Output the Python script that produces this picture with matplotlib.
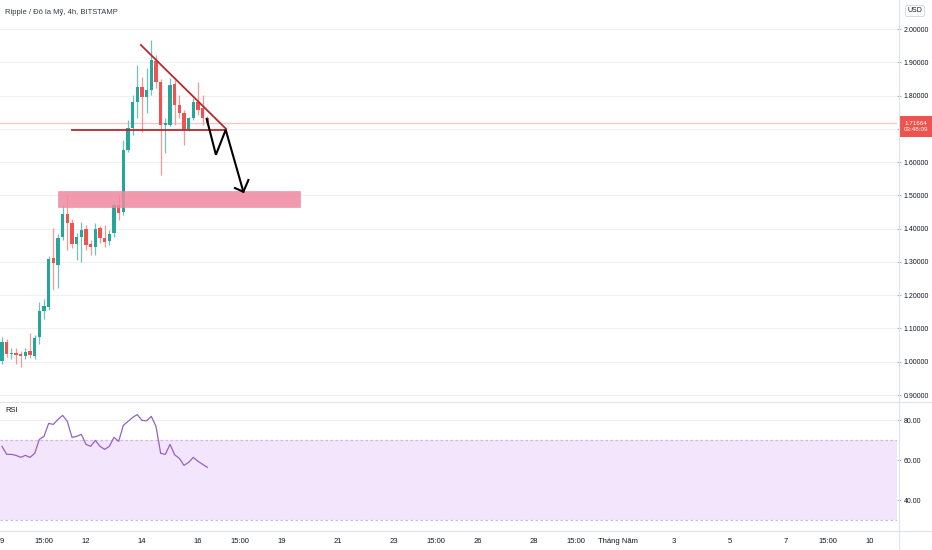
import matplotlib.pyplot as plt
from matplotlib.lines import Line2D
from matplotlib.patches import Rectangle

plt.rcParams['font.family'] = ['Liberation Sans', 'DejaVu Sans']

# 4h candles, XRP/USD (Bitstamp)
opens = [1.001, 1.058, 1.022, 1.027, 1.022, 1.016, 1.031, 1.016, 1.073, 1.151,
         1.166, 1.313, 1.292, 1.376, 1.445, 1.418, 1.355, 1.376, 1.400, 1.355,
         1.346, 1.403, 1.373, 1.364, 1.388, 1.472, 1.451, 1.637, 1.703, 1.781,
         1.826, 1.796, 1.817, 1.904, 1.841, 1.712, 1.712, 1.835, 1.772, 1.748,
         1.697, 1.733, 1.781, 1.763, 1.733]
highs = [1.073, 1.067, 1.040, 1.040, 1.031, 1.040, 1.085, 1.079, 1.181, 1.190,
         1.319, 1.403, 1.385, 1.472, 1.502, 1.430, 1.388, 1.421, 1.412, 1.367,
         1.418, 1.409, 1.412, 1.397, 1.478, 1.502, 1.667, 1.727, 1.802, 1.892,
         1.856, 1.883, 1.967, 1.922, 1.850, 1.733, 1.853, 1.847, 1.802, 1.757,
         1.736, 1.793, 1.841, 1.802, 1.739]
lows = [0.992, 1.013, 1.007, 0.992, 0.983, 1.007, 1.010, 1.007, 1.052, 1.127,
        1.154, 1.217, 1.223, 1.367, 1.337, 1.343, 1.307, 1.301, 1.337, 1.322,
        1.322, 1.358, 1.346, 1.352, 1.376, 1.427, 1.442, 1.631, 1.682, 1.733,
        1.691, 1.748, 1.802, 1.823, 1.562, 1.628, 1.709, 1.712, 1.733, 1.652,
        1.694, 1.727, 1.742, 1.712, 1.715]
closes = [1.058, 1.022, 1.025, 1.019, 1.016, 1.028, 1.019, 1.070, 1.151, 1.169,
          1.310, 1.298, 1.373, 1.445, 1.418, 1.355, 1.376, 1.397, 1.352, 1.346,
          1.400, 1.373, 1.361, 1.385, 1.472, 1.448, 1.637, 1.703, 1.781, 1.826,
          1.796, 1.817, 1.907, 1.841, 1.712, 1.718, 1.832, 1.772, 1.748, 1.697,
          1.733, 1.781, 1.757, 1.733, 1.717]
rsi = [67, 63, 63, 62.5, 61.5, 62.5, 61.5, 63.5, 70.5, 72,
       78.5, 78, 80.5, 82.5, 79.5, 71.5, 72, 73, 68, 67,
       70, 67, 65.5, 67, 71.5, 69.5, 77.5, 79.5, 81.5, 82.9,
       80, 79.8, 82, 77, 63.5, 63, 68, 62.8, 61, 57.5,
       59, 61.5, 59.5, 58, 56.5]
last_price = 1.71664
countdown = '03:48:09'

# x axis in days from the "9" label, one candle = 4h
t = [i / 6 for i in range(len(opens))]
tick_pos = [0, 1.5, 3, 5, 7, 8.5, 10, 12, 14, 15.5, 17, 19, 20.5, 22, 24, 26, 28, 29.5, 31]
tick_labels = ['9', '15:00', '12', '14', '16', '15:00', '19', '21', '23', '15:00',
               '26', '28', '15:00', 'Tháng Năm', '3', '5', '7', '15:00', '10']
price_ticks = [0.9, 1.0, 1.1, 1.2, 1.3, 1.4, 1.5, 1.6, 1.7, 1.8, 1.9, 2.0]
hidden_tick = 1.7  # covered by the last-price label
rsi_ticks = [40, 60, 80]

# drawings on the chart
trend_x, trend_y = [4.96, 8.0], [1.952, 1.700]
support_x, support_y = [2.5, 8.0], [1.697, 1.697]
arrow_x = [7.31, 7.64, 7.99, 8.62]
arrow_y = [1.730, 1.622, 1.697, 1.511]
head_x = [8.32, 8.62, 8.80]
head_y = [1.522, 1.511, 1.546]
zone = (2.0, 10.64, 1.466, 1.513)  # x0, x1, y0, y1

GREEN = '#26a69a'
RED = '#ef5350'
GRID = '#eef0f4'
TXT = '#131722'

fig = plt.figure(figsize=(9.32, 5.5), dpi=100)
ax = fig.add_axes([0, 1 - 401 / 550, 897 / 932, 401 / 550])
ax2 = fig.add_axes([0, 1 - 531 / 550, 897 / 932, 129 / 550], sharex=ax)

# candles
up = [c >= o for o, c in zip(opens, closes)]
cols = [GREEN if u else RED for u in up]
wick_cols = ['#6cc4bb' if u else '#f39a98' for u in up]
ax.vlines(t, lows, highs, colors=wick_cols, linewidth=0.9, zorder=3)
bottoms = [min(o, c) for o, c in zip(opens, closes)]
heights = [max(abs(c - o), 0.003) for o, c in zip(opens, closes)]
ax.bar(t, heights, bottom=bottoms, width=0.12, color=cols, zorder=4, linewidth=0)

# last price line
ax.axhline(last_price, color='#f6c4c6', lw=0.9, zorder=2)

# drawings
x0, x1, y0, y1 = zone
ax.add_patch(Rectangle((x0, y0), x1 - x0, y1 - y0, facecolor='#f0889f',
                       edgecolor='#e88aad', lw=0.5, alpha=0.85, zorder=5))
ax.plot(trend_x, trend_y, color='#b8282e', lw=1.3, zorder=6)
ax.plot(support_x, support_y, color='#b8282e', lw=1.3, zorder=6)
ax.plot(arrow_x, arrow_y, color='black', lw=1.5, zorder=7, solid_joinstyle='miter')
ax.plot(head_x, head_y, color='black', lw=1.5, zorder=7)

ax.set_ylim(0.882, 2.0872)
ax.set_xlim(-2 / 28, 895 / 28)
ax.set_yticks(price_ticks)
ax.set_yticklabels(['' if abs(p - hidden_tick) < 1e-9 else f'{p:.5f}' for p in price_ticks])
ax.yaxis.tick_right()
ax.grid(axis='y', color=GRID, lw=0.8)
ax.tick_params(axis='y', length=3, color='#b2b5be', labelsize=5, labelcolor=TXT, pad=2)
ax.tick_params(axis='x', bottom=False, labelbottom=False)

# RSI pane
ax2.axhspan(30, 70, color='#f3e6fc', lw=0, zorder=2)
ax2.axhline(70, color='#cdb8e6', lw=0.9, ls=(0, (2, 2)), zorder=2.5)
ax2.axhline(30, color='#cdb8e6', lw=0.9, ls=(0, (2, 2)), zorder=2.5)
ax2.plot(t, rsi, color='#9461c6', lw=0.9, zorder=3)
ax2.set_ylim(24.65, 89.2)
ax2.set_yticks(rsi_ticks)
ax2.set_yticklabels([f'{v:.2f}' for v in rsi_ticks])
ax2.yaxis.tick_right()
ax2.grid(axis='y', color=GRID, lw=0.8)
ax2.tick_params(axis='y', length=3, color='#b2b5be', labelsize=5, labelcolor=TXT, pad=2)
ax2.set_xticks(tick_pos)
ax2.set_xticklabels(tick_labels)
ax2.tick_params(axis='x', length=0, labelsize=5.5, labelcolor=TXT, pad=5)
ax2.text(5 / 897, 1 - 9 / 129, 'RSI', transform=ax2.transAxes,
         fontsize=5.5, color=TXT, va='center')

for a in (ax, ax2):
    for s in a.spines.values():
        s.set_visible(False)

# pane borders
fig.add_artist(Line2D([898.5 / 932, 898.5 / 932], [0, 1], color='#e0e3eb', lw=0.8))
fig.add_artist(Line2D([0, 1], [1 - 401.5 / 550] * 2, color='#e0e3eb', lw=0.8))
fig.add_artist(Line2D([0, 1], [1 - 531 / 550] * 2, color='#e0e3eb', lw=0.8))

# price label
fig.add_artist(Rectangle((899 / 932, 1 - 137 / 550), 33 / 932, 21 / 550,
                         transform=fig.transFigure, facecolor=RED, edgecolor='none'))
fig.text(915.5 / 932, 1 - 126.5 / 550, f'{last_price:.5f}\n{countdown}', color='white',
         fontsize=4.5, ha='center', va='center', linespacing=1.3)

fig.text(915 / 932, 1 - 11 / 550, 'USD', color=TXT, fontsize=5, ha='center', va='center',
         bbox=dict(boxstyle='round,pad=0.3', fc='white', ec='#d1d4dc', lw=0.6))
fig.text(5 / 932, 1 - 12 / 550, 'Ripple / Đô la Mỹ, 4h, BITSTAMP', color=TXT,
         fontsize=5.5, va='center', alpha=0.85)

fig.savefig('out.png', dpi=100)
